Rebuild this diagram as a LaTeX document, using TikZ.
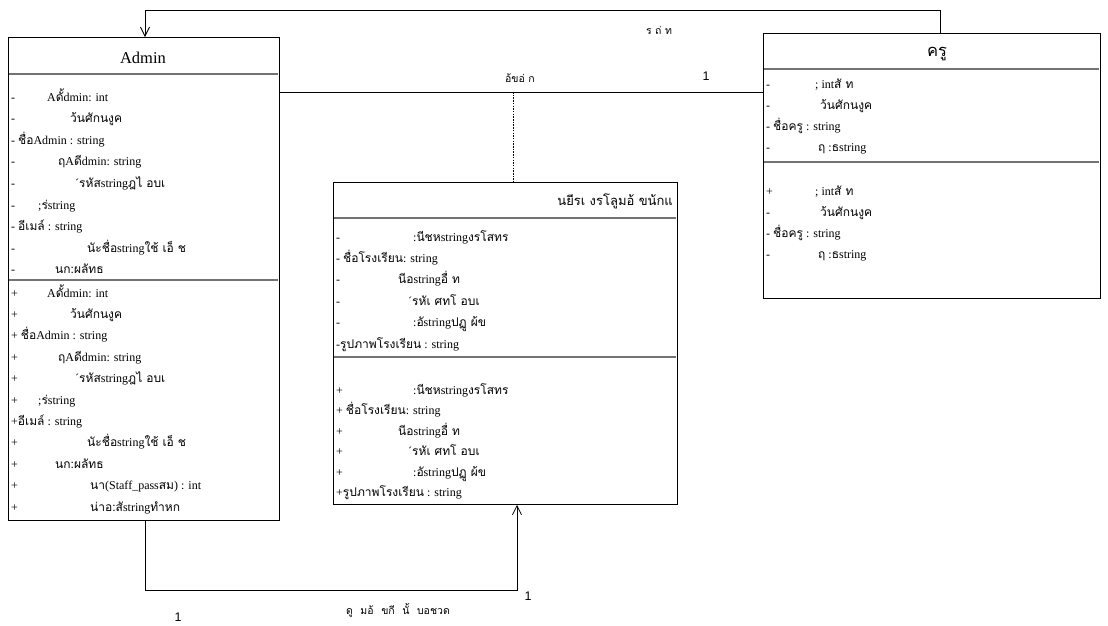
\documentclass[tikz,border=0pt]{standalone}
\usepackage{fontspec}
\setmainfont{Liberation Serif}
\newfontfamily\thai[Script=Thai]{Loma}
\newfontfamily\arialf{Liberation Sans}
\newcommand\T[1]{{\thai #1}}
\usetikzlibrary{arrows.meta}
\tikzset{
  box/.style={draw=black, line width=0.9pt, anchor=north west, inner sep=0pt, fill=white},
  sepline/.style={draw=black!55, line width=1.6pt},
  row/.style={anchor=base west, inner sep=0pt, font=\fontsize{12}{14}\selectfont},
  ttl/.style={inner sep=0pt, font=\fontsize{16.5}{19}\selectfont},
  conn/.style={draw=black, line width=0.9pt},
  tipv/.style={-{Straight Barb[length=9pt,width=9pt,line width=0.8pt]}},
  lbl/.style={inner sep=0pt, font=\fontsize{10.5}{12}\selectfont},
  one/.style={inner sep=0pt, font=\arialf\fontsize{12.5}{14}\selectfont}
}
\begin{document}
\begin{tikzpicture}[x=1pt,y=-1pt]
\useasboundingbox (0,0) rectangle (1108,625);
\fill[white] (0,0) rectangle (1108,625);

% ---------------- boxes
\node[box, minimum width=271pt, minimum height=483pt] (admin) at (8,37) {};
\node[box, minimum width=337pt, minimum height=265pt] (kru) at (763,33) {};
\node[box, minimum width=344pt, minimum height=322pt] (school) at (333,182) {};

% separators
\draw[sepline] (9,74) -- (278,74);
\draw[sepline] (9,280) -- (278,280);
\draw[sepline] (764,69) -- (1099,69);
\draw[sepline] (764,162) -- (1099,162);
\draw[sepline] (334,218) -- (676,218);
\draw[sepline] (334,357) -- (676,357);

% titles
\node[ttl] (adminT) at (143,58) {Admin};
\node[ttl] (kruT) at (937,54) {\T{ครู}};
\node[ttl, anchor=east, font=\fontsize{13}{15}\selectfont] (schoolT) at (673,201) {\T{นยีรเ งรโลูมอ้ ขน้กแ}};

% ---------------- Admin attributes
\node[row] (a1s) at (11,101) {-};
\node[row] (a1) at (47,101) {A\T{ดั้}dmin: int};
\node[row] (a2s) at (11,122.6) {-};
\node[row] (a2) at (70,122.6) {\T{ว้นศักนงูค}};
\node[row] (a3) at (11,144.2) {- \T{ชื่อ}Admin : string};
\node[row] (a4s) at (11,165.8) {-};
\node[row] (a4) at (58,165.8) {\T{ฤ}A\T{ดี}dmin: string};
\node[row] (a5s) at (11,187.4) {-};
\node[row] (a5) at (75,187.4) {´\T{รหัส}string\T{ฎไ อบเ}};
\node[row] (a6s) at (11,209) {-};
\node[row] (a6) at (38,209) {;\T{ร่}string};
\node[row] (a7) at (11,230.6) {- \T{อีเมล์} : string};
\node[row] (a8s) at (11,252.2) {-};
\node[row] (a8) at (87,252.2) {\T{นัะชื่อ}string\T{ใช้ เอ็ ช}};
\node[row] (a9s) at (11,273.8) {-};
\node[row] (a9) at (55,273.8) {\T{นก:ผลัทธ}};

% ---------------- Admin operations
\node[row] (b1s) at (11,297) {+};
\node[row] (b1) at (47,297) {A\T{ดั้}dmin: int};
\node[row] (b2s) at (11,318.4) {+};
\node[row] (b2) at (70,318.4) {\T{ว้นศักนงูค}};
\node[row] (b3) at (11,339.8) {+ \T{ชื่อ}Admin : string};
\node[row] (b4s) at (11,361.2) {+};
\node[row] (b4) at (58,361.2) {\T{ฤ}A\T{ดี}dmin: string};
\node[row] (b5s) at (11,382.6) {+};
\node[row] (b5) at (75,382.6) {´\T{รหัส}string\T{ฎไ อบเ}};
\node[row] (b6s) at (11,404) {+};
\node[row] (b6) at (38,404) {;\T{ร่}string};
\node[row] (b7) at (11,425.4) {+\T{อีเมล์} : string};
\node[row] (b8s) at (11,446.8) {+};
\node[row] (b8) at (87,446.8) {\T{นัะชื่อ}string\T{ใช้ เอ็ ช}};
\node[row] (b9s) at (11,468.2) {+};
\node[row] (b9) at (55,468.2) {\T{นก:ผลัทธ}};
\node[row] (b10s) at (11,489.6) {+};
\node[row] (b10) at (90,489.6) {\T{นา}(Staff\_pass\T{สม}) : int};
\node[row] (b11s) at (11,511) {+};
\node[row] (b11) at (90,511) {\T{น่าอ:สั}string\T{ทำหก}};

% ---------------- Kru
\node[row] (k1s) at (766,88) {-};
\node[row] (k1) at (815,88) {; int\T{สั ท}};
\node[row] (k2s) at (766,109) {-};
\node[row] (k2) at (820,109) {\T{ว้นศักนงูค}};
\node[row] (k3) at (766,130) {- \T{ชื่อครู} : string};
\node[row] (k4s) at (766,151) {-};
\node[row] (k4) at (818,151) {\T{ฤ} :\T{ธ}string};
\node[row] (m1s) at (766,195) {+};
\node[row] (m1) at (815,195) {; int\T{สั ท}};
\node[row] (m2s) at (766,216) {-};
\node[row] (m2) at (820,216) {\T{ว้นศักนงูค}};
\node[row] (m3) at (766,237) {- \T{ชื่อครู} : string};
\node[row] (m4s) at (766,258) {-};
\node[row] (m4) at (818,258) {\T{ฤ} :\T{ธ}string};

% ---------------- School
\node[row] (s1s) at (336,241) {-};
\node[row] (s1) at (413,241) {:\T{นีชห}string\T{งรโสทร}};
\node[row] (s2) at (336,262.4) {- \T{ชื่อโรงเรียน}: string};
\node[row] (s3s) at (336,283.8) {-};
\node[row] (s3) at (398,283.8) {\T{นีอ}string\T{อื่ ท}};
\node[row] (s4s) at (336,305.2) {-};
\node[row] (s4) at (408,305.2) {´\T{รหัเ ศทโ อบเ}};
\node[row] (s5s) at (336,326.6) {-};
\node[row] (s5) at (413,326.6) {:\T{อั}string\T{ปฏู ผ้ข}};
\node[row] (s6) at (336,348) {-\T{รูปภาพโรงเรียน} : string};
\node[row] (t1s) at (336,394) {+};
\node[row] (t1) at (413,394) {:\T{นีชห}string\T{งรโสทร}};
\node[row] (t2) at (336,414.5) {+ \T{ชื่อโรงเรียน}: string};
\node[row] (t3s) at (336,435) {+};
\node[row] (t3) at (398,435) {\T{นีอ}string\T{อื่ ท}};
\node[row] (t4s) at (336,455.5) {+};
\node[row] (t4) at (408,455.5) {´\T{รหัเ ศทโ อบเ}};
\node[row] (t5s) at (336,476) {+};
\node[row] (t5) at (413,476) {:\T{อั}string\T{ปฏู ผ้ข}};
\node[row] (t6) at (336,496.5) {+\T{รูปภาพโรงเรียน} : string};

% ---------------- connectors
\coordinate (tl) at (145,10);
\draw[conn, tipv] ([xshift=177pt]kru.north west) |- (tl) -- ([xshift=137pt]admin.north west);
\node[lbl] (topL) at (659,30) {\T{ร ถ่ ท}};

\coordinate (ad) at (513,92);
\draw[conn] ([yshift=-55pt]admin.north east) -- ([yshift=-59pt]kru.north west);
\draw[black, line width=0.6pt, dash pattern=on 1.5pt off 1.2pt] (ad) -- ([xshift=180pt]school.north west);
\node[lbl] (assL) at (520,78) {\T{อ้ขอ่ ก}};
\node[one] (one1) at (706,76) {1};

\coordinate (bl) at (145,590);
\coordinate (br) at (517,590);
\draw[conn, tipv] ([xshift=137pt]admin.south west) -- (bl) -- (br) -- ([xshift=184pt]school.south west);
\node[one] (one2) at (528,596) {1};
\node[lbl] (botL) at (398,610) {\T{ดู\hspace{4pt} มอ้\hspace{4pt} ขกี\hspace{4pt} นั้\hspace{4pt} บอชวด}};
\node[one] (one3) at (178,617) {1};
\end{tikzpicture}
\end{document}
